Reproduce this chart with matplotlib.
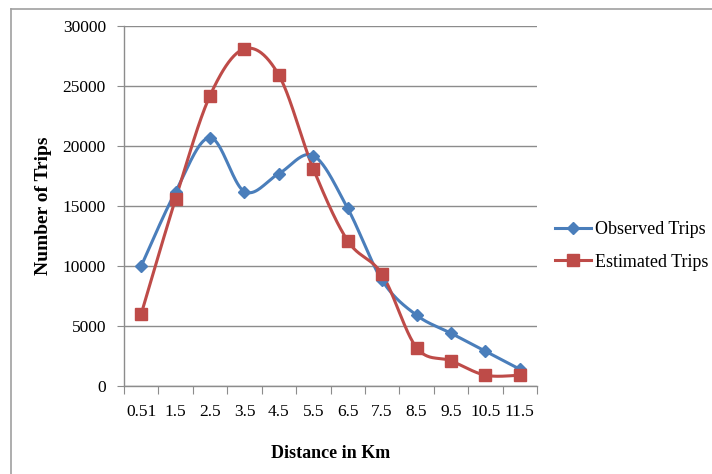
import numpy as np
import matplotlib
matplotlib.use("Agg")
import matplotlib.pyplot as plt
from matplotlib.lines import Line2D

# Trip-length distribution data
categories = ["0.51", "1.5", "2.5", "3.5", "4.5", "5.5", "6.5", "7.5", "8.5", "9.5", "10.5", "11.5"]
observed_trips = [10000, 16200, 20700, 16200, 17700, 19200, 14800, 8800, 5900, 4400, 2900, 1400]
estimated_trips = [6000, 15600, 24200, 28100, 25900, 18100, 12100, 9300, 3200, 2100, 900, 900]
y_ticks = [0, 5000, 10000, 15000, 20000, 25000, 30000]

BLUE = "#4a7ebb"
RED = "#be4b48"
GRID = "#8c8c8c"


def smooth(xs, ys, n=40):
    """Catmull-Rom style Bezier smoothing through every point."""
    xs = np.asarray(xs, float)
    ys = np.asarray(ys, float)
    pts = np.column_stack([xs, ys])
    out = []
    m = len(pts)
    for i in range(m - 1):
        p0 = pts[max(i - 1, 0)]
        p1 = pts[i]
        p2 = pts[i + 1]
        p3 = pts[min(i + 2, m - 1)]
        c1 = p1 + (p2 - p0) / 6.0
        c2 = p2 - (p3 - p1) / 6.0
        t = np.linspace(0, 1, n)[:, None]
        seg = ((1 - t) ** 3) * p1 + 3 * ((1 - t) ** 2) * t * c1 + 3 * (1 - t) * t ** 2 * c2 + t ** 3 * p2
        if i > 0:
            seg = seg[1:]
        out.append(seg)
    out = np.vstack(out)
    return out[:, 0], out[:, 1]


plt.rcParams["font.family"] = ["Liberation Serif", "DejaVu Serif"]

W, H = 712, 474
fig = plt.figure(figsize=(W / 100, H / 100), dpi=100)
fig.patch.set_facecolor("white")

# outer chart frame (left and top edges fall inside the canvas)
frame_x = 10.5 / W
frame_y = 1 - 8.5 / H
fig.add_artist(Line2D([frame_x, frame_x], [0, frame_y], transform=fig.transFigure,
                      color="#a0a0a0", linewidth=1.2))
fig.add_artist(Line2D([frame_x, 1], [frame_y, frame_y], transform=fig.transFigure,
                      color="#a0a0a0", linewidth=1.2))

ax = fig.add_axes([124 / W, (H - 386) / H, (537 - 124) / W, 360 / H])
x = np.arange(len(categories))

for vals, color, marker, ms, label in [
    (observed_trips, BLUE, "D", 6, "Observed Trips"),
    (estimated_trips, RED, "s", 8, "Estimated Trips"),
]:
    sx, sy = smooth(x, vals)
    ax.plot(sx, sy, color=color, linewidth=2.2, zorder=3)
    ax.plot(x, vals, linestyle="none", marker=marker, markersize=ms,
            color=color, zorder=4)
    ax.plot([], [], color=color, linewidth=2.2, marker=marker, markersize=ms, label=label)

ax.set_xlim(-0.5, len(categories) - 0.5)
ax.set_ylim(0, 30000)
ax.set_yticks(y_ticks)
ax.set_yticklabels([str(v) for v in y_ticks], fontsize=12.5)
ax.yaxis.grid(True, color=GRID, linewidth=1.0)
ax.set_axisbelow(True)

# category boundaries get tick marks, centres get the labels
ax.set_xticks(np.arange(-0.5, len(categories), 1.0))
ax.set_xticklabels([])
ax.set_xticks(x, minor=True)
ax.set_xticklabels(categories, minor=True, fontsize=12.5)
ax.tick_params(axis="x", which="minor", length=0, pad=13)
ax.tick_params(axis="x", which="major", length=6, color=GRID, direction="out")
ax.tick_params(axis="y", length=5, color=GRID, direction="out", pad=8)

for side in ["top", "right"]:
    ax.spines[side].set_visible(False)
for side in ["left", "bottom"]:
    ax.spines[side].set_color(GRID)
    ax.spines[side].set_linewidth(1.0)

ax.set_xlabel("Distance in Km", fontsize=13, fontweight="bold", labelpad=18)
ax.set_ylabel("Number of Trips", fontsize=14, fontweight="bold", labelpad=8)

ax.legend(loc="center left", bbox_to_anchor=(555 / W, 1 - 246 / H), bbox_transform=fig.transFigure,
          frameon=False, fontsize=13, handlelength=2.0, handletextpad=0.2, labelspacing=0.85,
          borderaxespad=0, borderpad=0)

fig.savefig("out.png", dpi=100, facecolor="white")
